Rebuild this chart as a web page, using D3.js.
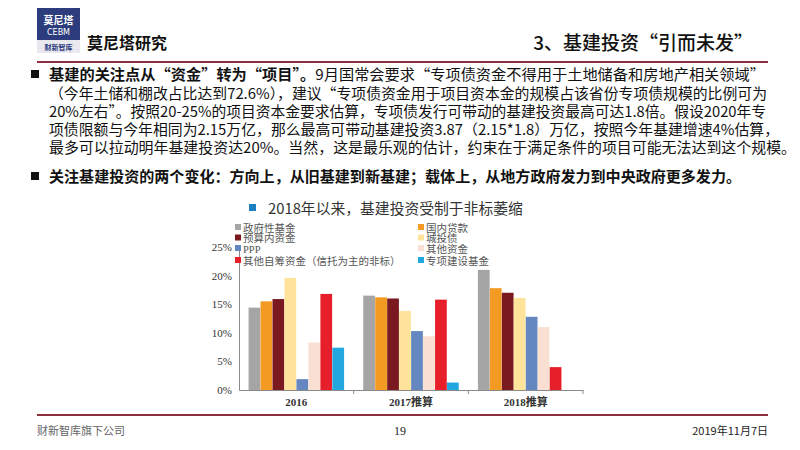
<!DOCTYPE html>
<html lang="zh-CN">
<head>
<meta charset="UTF-8" />
<title>基建投资“引而未发”</title>
<script src="https://cdnjs.cloudflare.com/ajax/libs/d3/7.8.5/d3.min.js"></script>
<style>
  html, body { margin: 0; padding: 0; background: #fff; }
  svg { display: block; font-family: "Noto Sans CJK SC", "Noto Sans", sans-serif; }
  .serif { font-family: "Liberation Serif", "DejaVu Serif", "Noto Sans CJK SC", serif; }
</style>
</head>
<body>
<svg id="page" width="800" height="450"></svg>
<script>
// 类别与系列
var categories = ["2016", "2017推算", "2018推算"];
var seriesNames = ["政府性基金", "国内贷款", "预算内资金", "城投债", "PPP", "其他资金", "其他自筹资金（信托为主的非标）", "专项建设基金"];
var seriesColors = ["#a5a5a5", "#f29a22", "#7a1a20", "#fde49a", "#6487c2", "#f9e0d3", "#e61f2b", "#23a7df"];

// 各系列占比（%），顺序同 categories
var govFund = [14.4, 16.5, 21.0];
var domesticLoan = [15.5, 16.2, 17.8];
var budgetFund = [15.9, 16.0, 17.0];
var lgfvBond = [19.6, 13.8, 16.1];
var ppp = [1.9, 10.3, 12.8];
var otherFund = [8.3, 9.4, 11.0];
var selfRaised = [16.8, 15.8, 4.0];
var specialFund = [7.4, 1.3, 0];
var seriesValues = [govFund, domesticLoan, budgetFund, lgfvBond, ppp, otherFund, selfRaised, specialFund];

var yTicks = [0, 5, 10, 15, 20, 25];

var svg = d3.select("#page");
svg.append("rect").attr("width", 800).attr("height", 450).attr("fill", "#fff");

// ---- 页眉 ----
var header = svg.append("g");
header.append("rect").attr("x", 37).attr("y", 8).attr("width", 43).attr("height", 32).attr("fill", "#2c3c7d");
header.append("rect").attr("x", 37).attr("y", 40).attr("width", 43).attr("height", 13).attr("fill", "#e8e8ee");
header.append("text").attr("x", 58.5).attr("y", 24).attr("text-anchor", "middle")
  .attr("fill", "#fff").attr("font-size", 10).attr("font-weight", 700).text("莫尼塔");
header.append("text").attr("x", 58.5).attr("y", 35).attr("text-anchor", "middle")
  .attr("fill", "#fff").attr("font-size", 8).attr("font-family", "DejaVu Sans").text("CEBM");
header.append("text").attr("x", 58.5).attr("y", 50).attr("text-anchor", "middle")
  .attr("fill", "#2c3c7d").attr("font-size", 7).attr("font-weight", 700).text("财新智库");
header.append("text").attr("x", 87).attr("y", 49).attr("font-size", 16).attr("font-weight", 700)
  .attr("fill", "#111").text("莫尼塔研究");
header.append("text").attr("x", 753).attr("y", 50).attr("text-anchor", "end").attr("font-size", 19)
  .attr("font-weight", 500).attr("fill", "#111").text("3、基建投资“引而未发”");
header.append("line").attr("x1", 37).attr("x2", 768).attr("y1", 62).attr("y2", 62)
  .attr("stroke", "#8c2f3e").attr("stroke-width", 2.2);

// ---- 正文 ----
var body = svg.append("g").attr("font-size", 14.6).attr("fill", "#111");
var lines = [
  { y: 80, w: 716, bullet: true, parts: [["基建的关注点从“资金”转为“项目”。", 700], ["9月国常会要求“专项债资金不得用于土地储备和房地产相关领域”", 400]] },
  { y: 98.5, w: 718, parts: [["（今年土储和棚改占比达到72.6%），建议“专项债资金用于项目资本金的规模占该省份专项债规模的比例可为", 400]] },
  { y: 117, w: 717, parts: [["20%左右”。按照20-25%的项目资本金要求估算，专项债发行可带动的基建投资最高可达1.8倍。假设2020年专", 400]] },
  { y: 135, w: 730, parts: [["项债限额与今年相同为2.15万亿，那么最高可带动基建投资3.87（2.15*1.8）万亿，按照今年基建增速4%估算，", 400]] },
  { y: 152.5, w: 747, parts: [["最多可以拉动明年基建投资达20%。当然，这是最乐观的估计，约束在于满足条件的项目可能无法达到这个规模。", 400]] },
  { y: 182, w: 692, bullet: true, parts: [["关注基建投资的两个变化：方向上，从旧基建到新基建；载体上，从地方政府发力到中央政府更多发力。", 700]] }
];
lines.forEach(function (ln) {
  if (ln.bullet) {
    body.append("rect").attr("x", 31).attr("y", ln.y - 10).attr("width", 8).attr("height", 8).attr("fill", "#111");
  }
  var t = body.append("text").attr("x", 49).attr("y", ln.y)
    .attr("textLength", ln.w).attr("lengthAdjust", "spacingAndGlyphs");
  ln.parts.forEach(function (p) {
    t.append("tspan").attr("font-weight", p[1]).text(p[0]);
  });
});

// ---- 图表 ----
var chart = svg.append("g");
chart.append("rect").attr("x", 249).attr("y", 204).attr("width", 7).attr("height", 7).attr("fill", "#1b7fc0");
chart.append("text").attr("x", 268).attr("y", 214).attr("font-size", 14.8).attr("fill", "#333")
  .text("2018年以来，基建投资受制于非标萎缩");

var x0 = d3.scaleBand().domain(categories).range([239, 583]).paddingInner(0).paddingOuter(0);
var x1 = d3.scaleBand().domain(d3.range(seriesNames.length)).range([0, x0.bandwidth()]).paddingOuter(0.8).paddingInner(0.02);
var y = d3.scaleLinear().domain([0, 25]).range([390, 247]);

// 坐标轴
var yAxis = d3.axisLeft(y).tickValues(yTicks).tickSize(0).tickPadding(7).tickFormat(function (d) { return d + "%"; });
var gy = chart.append("g").attr("transform", "translate(239,0)").call(yAxis);
gy.select(".domain").attr("stroke", "#8a8a8a");
gy.selectAll("text").attr("class", "serif").attr("font-size", 11).attr("fill", "#333");

var xAxis = d3.axisBottom(x0).tickSize(0).tickPadding(8);
var gx = chart.append("g").attr("transform", "translate(0,390)").call(xAxis);
gx.select(".domain").attr("stroke", "#8a8a8a");
gx.selectAll("text").attr("class", "serif").attr("font-size", 11).attr("font-weight", 700).attr("fill", "#333");
gx.selectAll(".sep").data(categories).enter().append("line").attr("class", "sep")
  .attr("x1", function (d) { return x0(d) + x0.bandwidth(); })
  .attr("x2", function (d) { return x0(d) + x0.bandwidth(); })
  .attr("y1", 0).attr("y2", 4).attr("stroke", "#8a8a8a");

// 柱子
var groups = chart.append("g").selectAll("g").data(categories).enter().append("g")
  .attr("transform", function (d) { return "translate(" + x0(d) + ",0)"; });
groups.selectAll("rect").data(function (c, ci) {
  return seriesValues.map(function (vals, si) { return { s: si, v: vals[ci] }; });
}).enter().append("rect")
  .attr("x", function (d) { return x1(d.s); })
  .attr("width", x1.bandwidth())
  .attr("y", function (d) { return y(d.v); })
  .attr("height", function (d) { return y(0) - y(d.v); })
  .attr("fill", function (d) { return seriesColors[d.s]; });

// 图例（两列，按行排列）
var legend = chart.append("g").attr("class", "serif").attr("font-size", 10.5).attr("fill", "#555");
var legendRows = [228, 238.5, 249, 261];
seriesNames.forEach(function (name, i) {
  var col = i % 2, row = Math.floor(i / 2);
  var lx = col === 0 ? 235 : 418;
  var ly = legendRows[row];
  legend.append("rect").attr("x", lx).attr("y", ly - 4).attr("width", 6).attr("height", 6).attr("fill", seriesColors[i]);
  legend.append("text").attr("x", lx + 8).attr("y", ly + 3.5).text(name);
});

// ---- 页脚 ----
var footer = svg.append("g").attr("fill", "#444").attr("font-size", 11);
footer.append("line").attr("x1", 37).attr("x2", 768).attr("y1", 415).attr("y2", 415)
  .attr("stroke", "#8c2f3e").attr("stroke-width", 2.2);
footer.append("text").attr("x", 37).attr("y", 435).attr("fill", "#666").text("财新智库旗下公司");
footer.append("text").attr("x", 400).attr("y", 435).attr("text-anchor", "middle").attr("class", "serif").attr("font-size", 12).attr("fill", "#222").text("19");
footer.append("text").attr("x", 768).attr("y", 435).attr("text-anchor", "end").attr("font-size", 11).attr("fill", "#222").text("2019年11月7日");
</script>
</body>
</html>
